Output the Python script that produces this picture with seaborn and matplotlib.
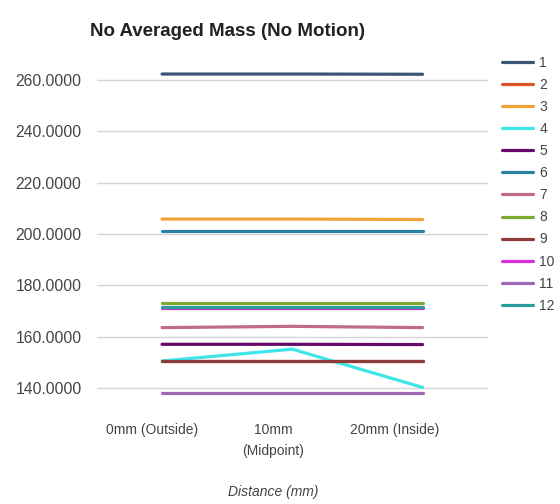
import matplotlib
matplotlib.use("Agg")
import matplotlib.pyplot as plt
import matplotlib.transforms as mtransforms
from matplotlib.lines import Line2D
import pandas as pd
import seaborn as sns

# Measurement positions along the probe
categories = ["0mm (Outside)", "10mm\n(Midpoint)", "20mm (Inside)"]

# Mass readings (g) for each trial at the three positions
trial_1 = [262.3, 262.3, 262.2]
trial_2 = [150.5, 150.5, 150.5]
trial_3 = [205.8, 205.8, 205.6]
trial_4 = [150.5, 155.1, 140.2]
trial_5 = [157.0, 157.0, 156.9]
trial_6 = [201.3, 201.3, 201.3]
trial_7 = [163.5, 164.0, 163.5]
trial_8 = [173.1, 173.1, 173.1]
trial_9 = [150.5, 150.5, 150.5]
trial_10 = [171.1, 171.1, 171.1]
trial_11 = [138.0, 138.0, 138.0]
trial_12 = [171.7, 171.7, 171.7]

trial_names = ["1", "2", "3", "4", "5", "6", "7", "8", "9", "10", "11", "12"]
trial_values = [trial_1, trial_2, trial_3, trial_4, trial_5, trial_6,
                trial_7, trial_8, trial_9, trial_10, trial_11, trial_12]

colors = ["#3b5576", "#d9532b", "#f2a33a", "#3ee6ea", "#660a6a", "#2b83a8",
          "#c06a8e", "#7fa833", "#8e3b3b", "#d830d8", "#a266b6", "#2a9d9a"]

rows = []
for name, vals in zip(trial_names, trial_values):
    for pos, v in enumerate(vals):
        rows.append({"trial": name, "pos": pos, "mass": v})
df = pd.DataFrame(rows)

sns.set_style("white")
plt.rcParams["font.family"] = ["Liberation Sans", "DejaVu Sans"]

fig = plt.figure(figsize=(5.6, 5.04), dpi=100)
ax = fig.add_axes([0.173, 0.215, 0.698, 0.657])

palette = dict(zip(trial_names, colors))
sns.lineplot(data=df, x="pos", y="mass", hue="trial", hue_order=trial_names,
             palette=palette, linewidth=2.3, ax=ax, legend=False, sort=False)

ax.set_xlim(-0.5, 2.5)
ax.set_ylim(137, 266)
yt = [140, 160, 180, 200, 220, 240, 260]
ax.set_yticks(yt)
ax.set_yticklabels([f"{t:.4f}" for t in yt])
ax.yaxis.grid(True, color="#d6d6d6", linewidth=1)
ax.set_axisbelow(True)
for s in ax.spines.values():
    s.set_visible(False)

ax.tick_params(axis="y", length=0, pad=11, labelsize=11.3, labelcolor="#444444")
ax.set_xticks([0, 1, 2])
ax.set_xticklabels(categories)
ax.tick_params(axis="x", length=0, pad=20, labelsize=10, labelcolor="#444444")
for i, lab in enumerate(ax.get_xticklabels()):
    lab.set_verticalalignment("top")
    lab.set_linespacing(1.6)
    dx = (-10 - 9 * i) / 100.0
    lab.set_transform(lab.get_transform() +
                      mtransforms.ScaledTranslation(dx, 0, fig.dpi_scale_trans))

ax.set_xlabel("Distance (mm)", fontsize=10, style="italic", color="#444444")
ax.xaxis.set_label_coords(0.45, -0.27)
ax.set_ylabel("")

fig.text(90 / 560, 1 - 31 / 504, "No Averaged Mass (No Motion)",
         fontsize=13.5, fontweight="bold", color="#222222",
         ha="left", va="center")

handles = [Line2D([0], [0], color=c, linewidth=2.3) for c in colors]
leg = fig.legend(handles, trial_names, loc="upper left",
                 bbox_to_anchor=(502 / 560, 1 - 56 / 504),
                 frameon=False, fontsize=10, handlelength=2.2,
                 handletextpad=0.5, labelspacing=0.58, borderaxespad=0,
                 borderpad=0)
for t in leg.get_texts():
    t.set_color("#444444")

fig.savefig("out.png", dpi=100, facecolor="white")
